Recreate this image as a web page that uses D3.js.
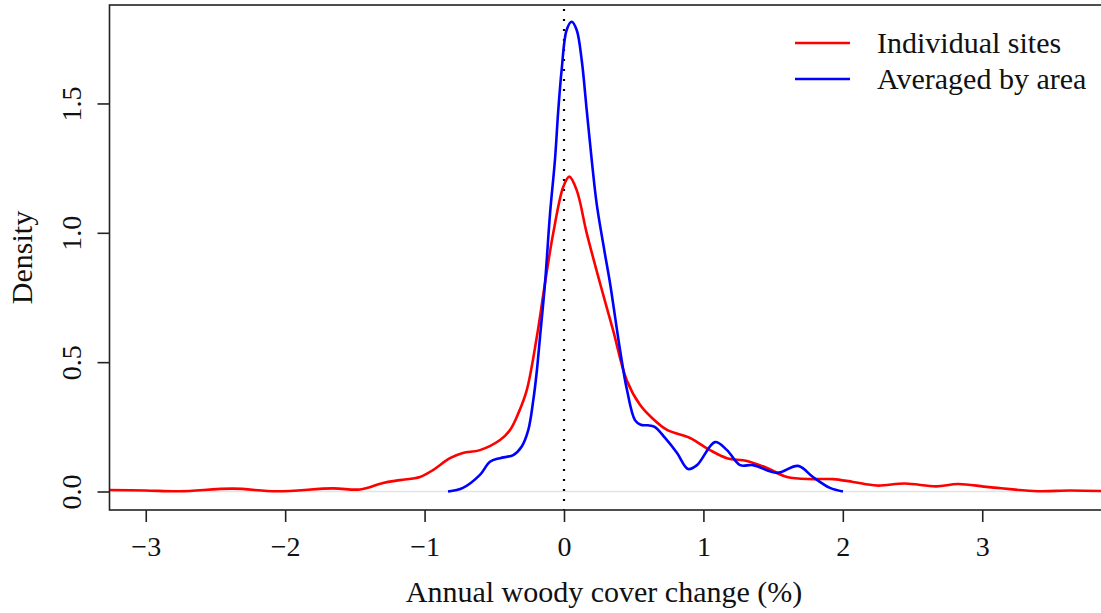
<!DOCTYPE html>
<html><head><meta charset="utf-8">
<script src="https://cdn.jsdelivr.net/npm/d3@7"></script>
<style>body{margin:0;background:#fff;} svg{display:block;} text{font-family:"Liberation Serif","DejaVu Serif",serif;fill:#111;}</style>
</head><body><svg id="c" width="1101" height="613"></svg>
<script>
const xTicks = [-3, -2, -1, 0, 1, 2, 3];
const yTicks = [0.0, 0.5, 1.0, 1.5];
const seriesNames = ["Individual sites", "Averaged by area"];
const seriesColors = ["#ff0000", "#0000ff"];

const redX = [-3.264,-3.0,-2.755,-2.374,-2.06,-1.657,-1.463,-1.298,-1.176,-1.033,-0.94,-0.818,-0.725,-0.603,-0.459,-0.387,-0.327,-0.267,-0.196,-0.136,-0.077,-0.005,0.038,0.091,0.163,0.258,0.352,0.450,0.545,0.630,0.739,0.904,1.047,1.169,1.313,1.456,1.6,1.786,1.93,2.073,2.245,2.446,2.669,2.826,3.049,3.40,3.63,3.90];
const redY = [0.006,0.004,0.001,0.011,0.001,0.012,0.008,0.033,0.044,0.056,0.083,0.129,0.149,0.160,0.199,0.238,0.303,0.392,0.594,0.806,0.999,1.178,1.217,1.165,0.999,0.806,0.624,0.430,0.335,0.285,0.238,0.207,0.160,0.129,0.118,0.091,0.056,0.048,0.048,0.037,0.023,0.031,0.020,0.029,0.017,0.001,0.004,0.001];

const blueX = [-0.832,-0.725,-0.603,-0.531,-0.459,-0.364,-0.303,-0.256,-0.220,-0.196,-0.172,-0.136,-0.100,-0.065,-0.041,-0.017,0.019,0.055,0.091,0.127,0.163,0.199,0.235,0.290,0.330,0.402,0.452,0.509,0.550,0.600,0.650,0.725,0.811,0.89,0.954,1.083,1.169,1.263,1.356,1.528,1.679,1.786,1.908,2.001];
const blueY = [0.0,0.014,0.064,0.115,0.129,0.141,0.174,0.238,0.354,0.460,0.597,0.806,1.075,1.281,1.474,1.629,1.784,1.816,1.784,1.668,1.474,1.281,1.110,0.930,0.806,0.547,0.392,0.276,0.258,0.256,0.250,0.207,0.149,0.087,0.102,0.191,0.160,0.102,0.102,0.072,0.099,0.056,0.014,0.0];

const svg = d3.select("#c");
const L = 109.5, R = 1110.5, T = 5, B = 510;
const x = d3.scaleLinear().domain([-3.26, 3.92]).range([L, R]);
const y = d3.scaleLinear().domain([-0.0715, 1.8806]).range([B, T]);

// zero line
svg.append("line").attr("x1", L).attr("x2", R).attr("y1", y(0)).attr("y2", y(0))
  .attr("stroke", "#e4e4e4").attr("stroke-width", 1.5);

// vertical dotted line at 0
svg.append("line").attr("x1", x(0)).attr("x2", x(0)).attr("y1", T + 4).attr("y2", B)
  .attr("stroke", "#000").attr("stroke-width", 2.2).attr("stroke-dasharray", "2,8");

const line = d3.line().curve(d3.curveCatmullRom.alpha(0.5))
  .x(d => x(d[0])).y(d => y(d[1]));
const redData = redX.map((v, i) => [v, redY[i]]);
const blueData = blueX.map((v, i) => [v, blueY[i]]);

svg.append("defs").append("clipPath").attr("id", "pc")
  .append("rect").attr("x", L).attr("y", T).attr("width", R - L).attr("height", B - T);
const g = svg.append("g").attr("clip-path", "url(#pc)");
g.append("path").datum(redData).attr("d", line).attr("fill", "none")
  .attr("stroke", seriesColors[0]).attr("stroke-width", 2.6);
g.append("path").datum(blueData).attr("d", line).attr("fill", "none")
  .attr("stroke", seriesColors[1]).attr("stroke-width", 2.6);

// box
svg.append("rect").attr("x", L).attr("y", T).attr("width", R - L).attr("height", B - T)
  .attr("fill", "none").attr("stroke", "#222").attr("stroke-width", 1.6);

// x axis
const xAxis = d3.axisBottom(x).tickValues(xTicks).tickSize(12).tickPadding(10)
  .tickFormat(d3.format("d"));
const gx = svg.append("g").attr("transform", `translate(0,${B})`).call(xAxis);
gx.select(".domain").remove();
gx.selectAll(".tick line").attr("stroke", "#222").attr("stroke-width", 1.6);
gx.selectAll(".tick text").attr("font-size", 28).attr("fill", "#111")
  .attr("font-family", "Liberation Serif").attr("y", 46).attr("dy", 0);

// y axis
const yAxis = d3.axisLeft(y).tickValues(yTicks).tickSize(12).tickFormat(d3.format(".1f"));
const gy = svg.append("g").attr("transform", `translate(${L},0)`).call(yAxis);
gy.select(".domain").remove();
gy.selectAll(".tick line").attr("stroke", "#222").attr("stroke-width", 1.6);
gy.selectAll(".tick text").attr("font-size", 28).attr("fill", "#111")
  .attr("font-family", "Liberation Serif")
  .attr("x", 0).attr("dy", 0).attr("text-anchor", "middle")
  .attr("transform", "translate(-29,0) rotate(-90)");

// axis titles
svg.append("text").attr("x", 604).attr("y", 602).attr("text-anchor", "middle")
  .attr("font-size", 30).text("Annual woody cover change (%)");
svg.append("text").attr("transform", `translate(32,${(T + B) / 2}) rotate(-90)`)
  .attr("text-anchor", "middle").attr("font-size", 30).text("Density");

// legend
const leg = svg.append("g");
seriesNames.forEach((n, i) => {
  const yy = 43 + i * 36;
  leg.append("line").attr("x1", 795).attr("x2", 850).attr("y1", yy).attr("y2", yy)
    .attr("stroke", seriesColors[i]).attr("stroke-width", 2.6);
  leg.append("text").attr("x", 877).attr("y", yy + 9.5).attr("font-size", 30).text(n);
});
</script></body></html>
